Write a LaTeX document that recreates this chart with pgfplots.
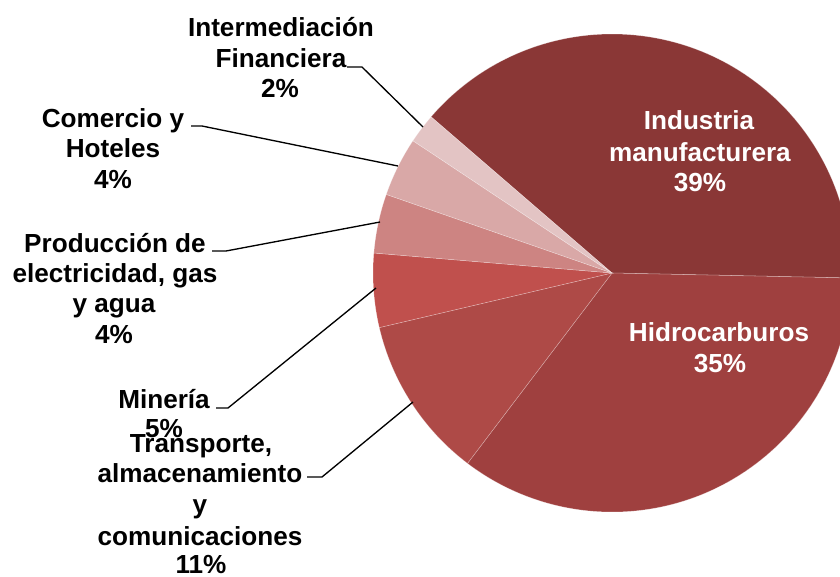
\documentclass[border=0pt]{standalone}
\usepackage{pgfplots}
\pgfplotsset{compat=1.18}
\usepackage{fontspec}
\setmainfont{Liberation Sans}

\definecolor{cInd}{HTML}{8A3736}
\definecolor{cHid}{HTML}{9F403F}
\definecolor{cTra}{HTML}{AE4A47}
\definecolor{cMin}{HTML}{C0504D}
\definecolor{cPro}{HTML}{CD8482}
\definecolor{cCom}{HTML}{D9A8A7}
\definecolor{cFin}{HTML}{E3C4C4}

% one line of label text, baseline at (x,y) in pixel units
\newcommand{\lbl}[3][black]{\node[anchor=base,inner sep=0pt,text=#1,font=\fontsize{19.6}{23}\selectfont\bfseries] at (axis cs:#2) {#3};}

\begin{document}
\begin{tikzpicture}
\begin{axis}[
    name=ax,
    x=0.75pt, y=0.75pt,
    xmin=0, xmax=840, ymin=0, ymax=576,
    y dir=reverse,
    hide axis,
]
% share (%) / colour, clockwise from Industria manufacturera
\xdef\startang{139.2}
\foreach \val/\col in {39/cInd, 35/cHid, 11/cTra, 5/cMin, 4/cPro, 4/cCom, 2/cFin} {
    \pgfmathsetmacro{\endang}{\startang-3.6*\val}
    \edef\temp{\noexpand\fill[\col, draw=white, draw opacity=0.35, line width=0.4pt]
        (axis cs:612,273) -- ++(\startang:179.25pt)
        arc[start angle=\startang, end angle=\endang, radius=179.25pt] -- cycle;}
    \temp
    \xdef\startang{\endang}
}

% leader lines
\draw[black, line width=1pt] (axis cs:347,67) -- (axis cs:362,67) -- (axis cs:423,127);
\draw[black, line width=1pt] (axis cs:191,126) -- (axis cs:202,126) -- (axis cs:398,166);
\draw[black, line width=1pt] (axis cs:212,251) -- (axis cs:226,251) -- (axis cs:380,222);
\draw[black, line width=1pt] (axis cs:216,408) -- (axis cs:228,408) -- (axis cs:376,288);
\draw[black, line width=1pt] (axis cs:307,477) -- (axis cs:322,477) -- (axis cs:413,402);

% outside labels
\lbl{281,36}{Intermediación}
\lbl{281,67}{Financiera}
\lbl{280,97}{2\%}
\lbl{113,127}{Comercio y}
\lbl{113,157}{Hoteles}
\lbl{113,188}{4\%}
\lbl{115,252}{Producción de}
\lbl{115,282}{electricidad, gas}
\lbl{114,312}{y agua}
\lbl{114,343}{4\%}
\lbl{164,408}{Minería}
\lbl{164,437}{5\%}
\lbl{201,452}{Transporte,}
\lbl{200,482}{almacenamiento}
\lbl{200,513}{y}
\lbl{200,545}{comunicaciones}
\lbl{201,573}{11\%}

% inside labels
\lbl[white]{699,129}{Industria}
\lbl[white]{700,161}{manufacturera}
\lbl[white]{700,191}{39\%}
\lbl[white]{719,341}{Hidrocarburos}
\lbl[white]{720,372}{35\%}
\end{axis}
\pgfresetboundingbox
\path[use as bounding box] (ax.south west) rectangle (ax.north east);
\end{tikzpicture}
\end{document}
